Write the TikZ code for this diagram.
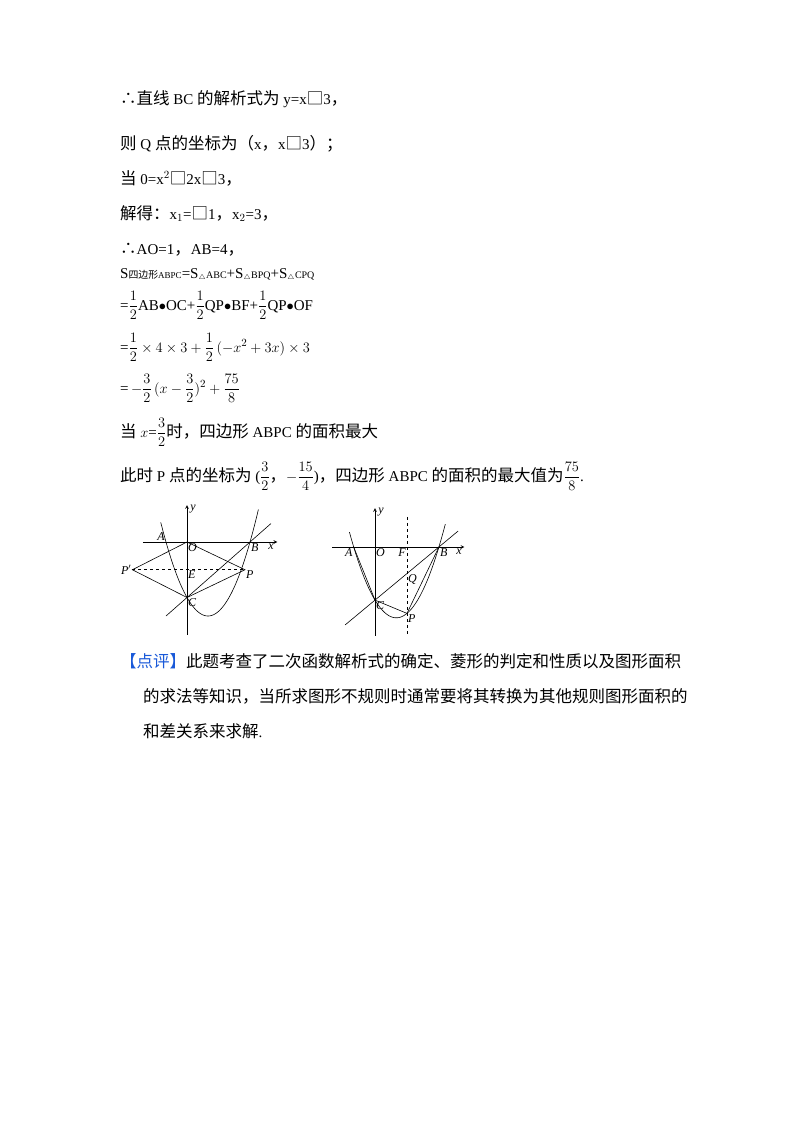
\documentclass[tikz,border=0pt]{standalone}
\usepackage{fontspec}
\setmainfont{Liberation Serif}
\newfontfamily\cjk[Scale=1.1]{Noto Sans CJK SC}
\newcommand{\zh}[1]{{\cjk #1}}
\newcommand{\hf}[2]{{\displaystyle{#1\over #2}}}
\begin{document}
\begin{tikzpicture}[x=1pt,y=-1pt,
  tl/.style={anchor=base west,inner sep=0pt,font=\fontsize{15}{18}\selectfont},
  lb/.style={font=\itshape\fontsize{12}{12}\selectfont,inner sep=1pt},
  ax/.style={line width=0.7pt,-stealth},
  ln/.style={line width=0.6pt}]
\useasboundingbox (0,0) rectangle (800,1132);
\fill[white] (0,0) rectangle (800,1132);
\node[tl] (t1) at (120,104) {\zh{∴直线} BC \zh{的解析式为} y=x\zh{□}3\zh{，}};
\node[tl] (t2) at (120,149) {\zh{则} Q \zh{点的坐标为（}x\zh{，}x\zh{□}3\zh{）；}};
\node[tl] (t3) at (120,184) {\zh{当} 0=x$^2$\zh{□}2x\zh{□}3\zh{，}};
\node[tl] (t4) at (120,219) {\zh{解得：}x$_1$=\zh{□}1\zh{，}x$_2$=3\zh{，}};
\node[tl] (t5) at (120,254) {\zh{∴}AO=1\zh{，}AB=4\zh{，}};
\node[tl] (t6) at (120,278) {S{\fontsize{9}{9}\selectfont\zh{四边形}ABPC}=S{\fontsize{10}{10}\selectfont$_\triangle$ABC}+S{\fontsize{10}{10}\selectfont$_\triangle$BPQ}+S{\fontsize{10}{10}\selectfont$_\triangle$CPQ}};
\node[tl] (t7) at (120,310) {=$\hf12$AB$\bullet$OC+$\hf12$QP$\bullet$BF+$\hf12$QP$\bullet$OF};
\node[tl] (t8) at (120,352) {=$\hf12\times4\times3+\hf12\,(-x^2+3x)\times3$};
\node[tl] (t9) at (120,393) {=$\,-\hf32\,(x-\hf32)^2+\hf{75}8$};
\node[tl] (t10) at (120,437) {\zh{当} $x$=$\hf32$\zh{时，四边形} ABPC \zh{的面积最大}};
\node[tl] (t11) at (120,481) {\zh{此时} P \zh{点的坐标为} ($\hf32$\zh{，}$-\hf{15}4$)\zh{，四边形} ABPC \zh{的面积的最大值为}$\hf{75}8$.};
\node[tl] (t12) at (120,667) {\zh{\color[rgb]{0.1,0.35,0.85}【点评】}\zh{此题考查了二次函数解析式的确定、菱形的判定和性质以及图形面积}};
\node[tl] (t13) at (143,702) {\zh{的求法等知识，当所求图形不规则时通常要将其转换为其他规则图形面积的}};
\node[tl] (t14) at (143,737) {\zh{和差关系来求解}.};
% left figure
\begin{scope}[shift={(187,542)},x=21pt,y=18.5pt]
\draw[ax] (-2.1,0) -- (4.3,0);
\draw[ax] (0,-5) -- (0,2);
\node[lb,anchor=west] (ly) at (0.1,1.8) {y};
\node[lb,anchor=north] (lx) at (4.0,-0.05) {x};
\draw[ln,domain=-1.25:3.4,samples=80] plot (\x,{\x*\x-2*\x-3});
\coordinate (A) at (-1,0); \coordinate (O) at (0,0); \coordinate (B) at (3,0);
\coordinate (C) at (0,-3); \coordinate (P) at (2.76,-1.5); \coordinate (Pp) at (-2.6,-1.5);
\coordinate (E) at (0,-1.5); \coordinate (L1) at (-1,-4); \coordinate (L2) at (4,1);
\draw[ln] (L1) -- (L2);
\draw[ln] (O) -- (P) -- (C) -- (Pp) -- (O);
\draw[ln,dashed] (Pp) -- (P);
\node[lb,anchor=south east] at (A) {A};
\node[lb,anchor=north west] at (O) {O};
\node[lb,anchor=north west] at (B) {B};
\node[lb,anchor=north west] at (C) {C};
\node[lb,anchor=north west] at (E) {E};
\node[lb,anchor=north west] at (P) {P};
\node[lb,anchor=east] at (Pp) {P$'$};
\end{scope}
% right figure
\begin{scope}[shift={(375,547)},x=21.3pt,y=17.7pt]
\draw[ax] (-2,0) -- (4.2,0);
\draw[ax] (0,-5) -- (0,2.2);
\node[lb,anchor=west] at (0.1,2.0) {y};
\node[lb,anchor=north] at (3.95,-0.05) {x};
\draw[ln,domain=-1.2:3.3,samples=80] plot (\x,{\x*\x-2*\x-3});
\coordinate (A2) at (-1,0); \coordinate (O2) at (0,0); \coordinate (B2) at (3,0);
\coordinate (C2) at (0,-3); \coordinate (P2) at (1.5,-3.75); \coordinate (Q2) at (1.5,-1.5);
\coordinate (F2) at (1.5,0);
\draw[ln] (-1.4,-4.4) -- (3.9,0.9);
\draw[ln,dashed] (1.5,1.7) -- (1.5,-5);
\draw[ln] (A2) -- (C2) -- (P2) -- (B2);
\node[lb,anchor=north east] at (A2) {A};
\node[lb,anchor=north west] at (O2) {O};
\node[lb,anchor=north east] at (F2) {F};
\node[lb,anchor=north west] at (B2) {B};
\node[lb,anchor=north west] at (C2) {C};
\node[lb,anchor=north west] at (Q2) {Q};
\node[lb,anchor=north west] at (P2) {P};
\end{scope}
\end{tikzpicture}
\end{document}
